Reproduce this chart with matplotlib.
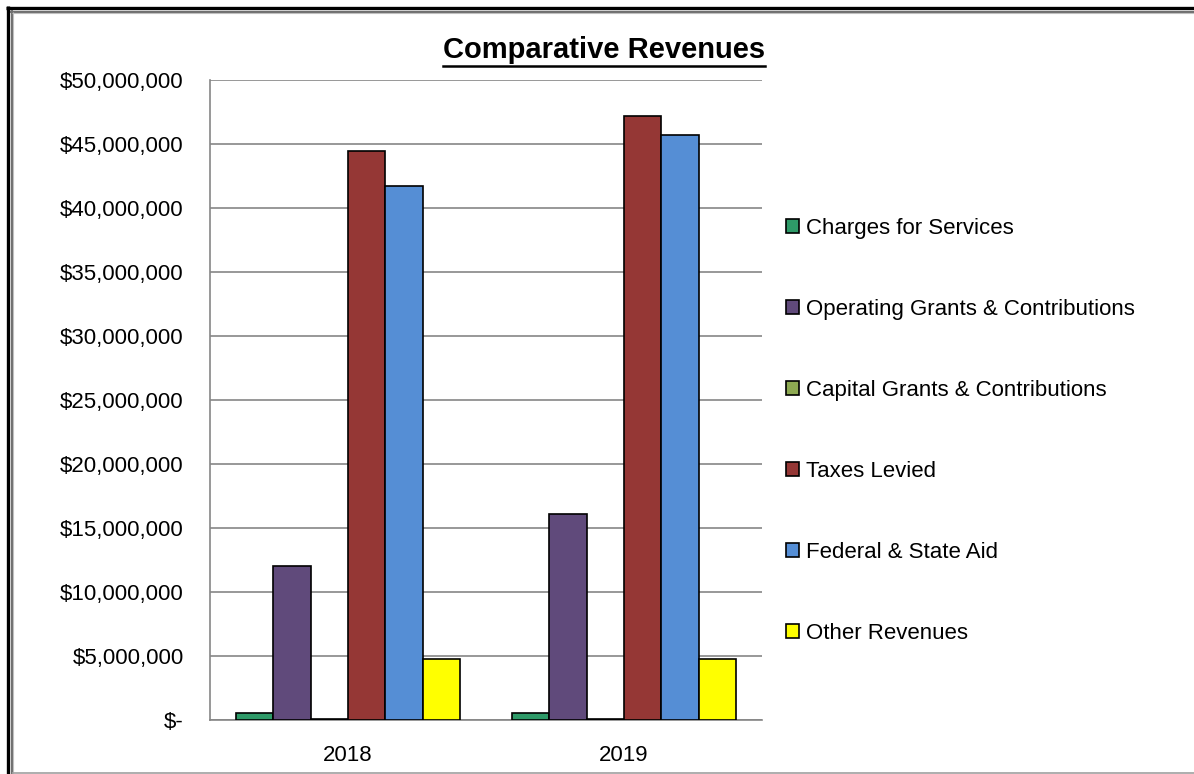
import matplotlib.pyplot as plt
import numpy as np
from matplotlib.lines import Line2D
from matplotlib.ticker import FuncFormatter

plt.rcParams['font.family'] = ['Liberation Sans', 'DejaVu Sans']

# data
years = ['2018', '2019']
series = ['Charges for Services', 'Operating Grants & Contributions',
          'Capital Grants & Contributions', 'Taxes Levied',
          'Federal & State Aid', 'Other Revenues']
charges = [560000, 560000]
operating = [12050000, 16100000]
capital = [100000, 100000]
taxes = [44450000, 47200000]
federal = [41700000, 45700000]
other = [4750000, 4750000]
values = [charges, operating, capital, taxes, federal, other]
colors = ['#2E9A68', '#604A7B', '#8EAA52', '#953735', '#558ED5', '#FFFF00']

W, H = 1194, 774
fig = plt.figure(figsize=(W / 100, H / 100), dpi=100)
ax = fig.add_axes([210 / W, 1 - 720 / H, 552 / W, 640 / H])

x = np.arange(len(years))
bw = 0.135
for i, (name, vals, c) in enumerate(zip(series, values, colors)):
    ax.bar(x + (i - 2.5) * bw, vals, bw, color=c, edgecolor='black',
           linewidth=1.2, label=name, zorder=3)

ax.set_xlim(-0.5, 1.5)
ax.set_ylim(0, 50000000)
ax.set_yticks(np.arange(0, 50000001, 5000000))
ax.yaxis.set_major_formatter(FuncFormatter(lambda v, p: '$-' if v == 0 else '${:,.0f}'.format(v)))
ax.set_xticks(x)
ax.set_xticklabels(years)
ax.tick_params(axis='both', length=0, labelsize=16)
ax.tick_params(axis='y', pad=19)
ax.tick_params(axis='x', pad=18)
ax.grid(axis='y', color='#868686', linewidth=1.2, zorder=0)
for s in ['top', 'right']:
    ax.spines[s].set_visible(False)
for s in ['left', 'bottom']:
    ax.spines[s].set_color('#868686')
    ax.spines[s].set_linewidth(1.2)

leg = fig.legend(loc='center left', bbox_to_anchor=(786 / W, 1 - 431 / H),
                 frameon=False, fontsize=16, handlelength=0.6, handleheight=0.6,
                 handletextpad=0.3, labelspacing=2.7, borderpad=0, borderaxespad=0)
for h in leg.legend_handles:
    h.set_linewidth(1.2)

# title with underline
t = fig.text(604 / W, 1 - 50 / H, 'Comparative Revenues', ha='center', va='center',
             fontsize=21, fontweight='bold')
fig.canvas.draw()
bb = t.get_window_extent().transformed(fig.transFigure.inverted())
fig.add_artist(Line2D([bb.x0, bb.x1], [bb.y0 - 0.002, bb.y0 - 0.002],
                      transform=fig.transFigure, color='black', linewidth=1.8))

# page border
def fl(x0, y0, x1, y1, **kw):
    fig.add_artist(Line2D([x0 / W, x1 / W], [1 - y0 / H, 1 - y1 / H],
                          transform=fig.transFigure, solid_capstyle='butt', **kw))

fl(6, 7.5, W, 7.5, color='black', linewidth=2.4)
fl(7.5, 6, 7.5, H, color='black', linewidth=2.4)
fl(10, 11.5, W, 11.5, color='#707070', linewidth=1.5)
fl(11.5, 10, 11.5, H, color='#707070', linewidth=1.5)
fl(12, 13, W, 13, color='#C0C0C0', linewidth=0.8)
fl(13, 12, 13, H, color='#C0C0C0', linewidth=0.8)
fl(12, 772.5, W, 772.5, color='#A0A0A0', linewidth=1.2)

fig.savefig('out.png', dpi=100)
